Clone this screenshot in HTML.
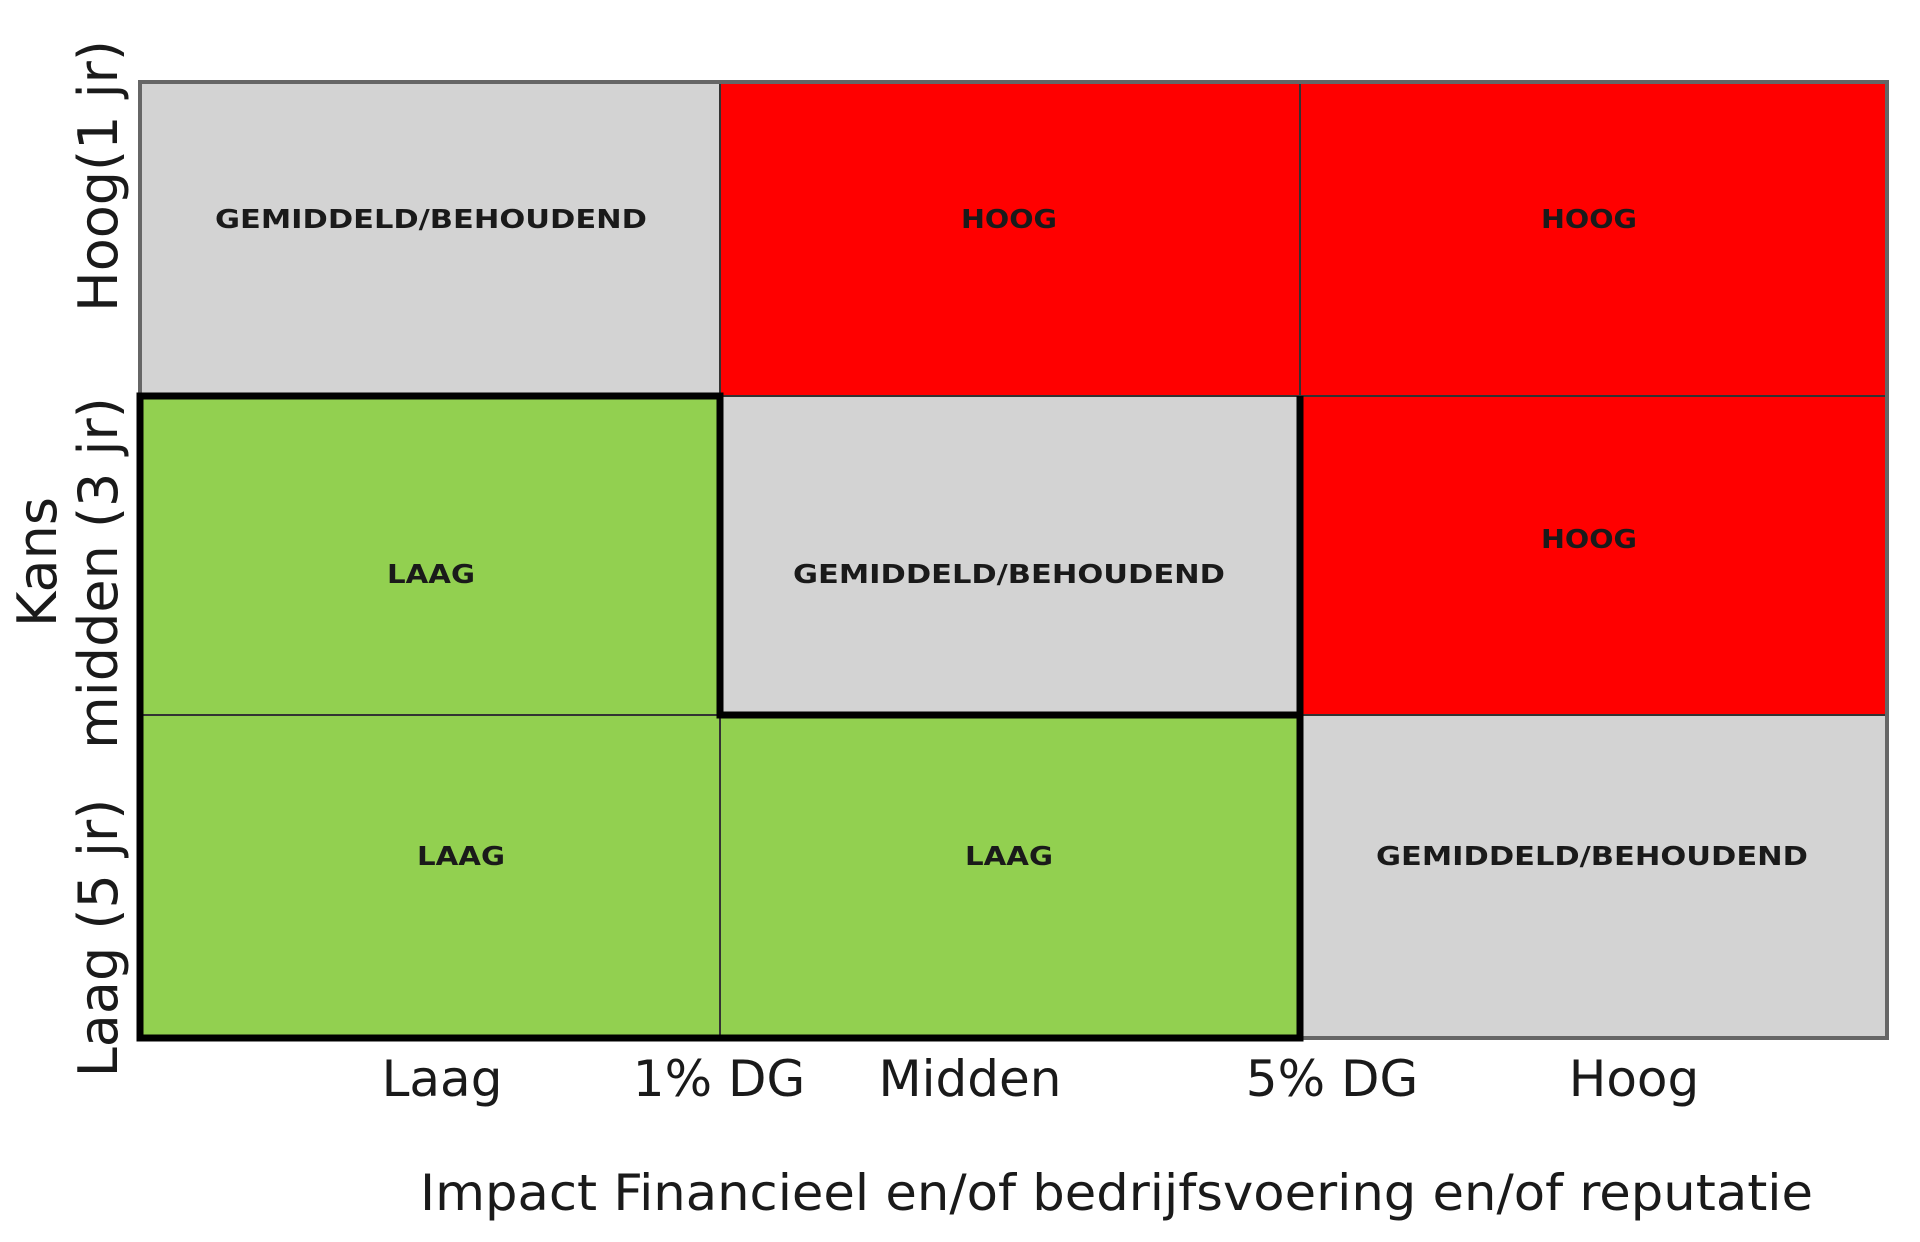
<!DOCTYPE html>
<html><head><meta charset="utf-8"><style>
html,body{margin:0;padding:0;background:#fff;}
svg{display:block;font-family:"DejaVu Sans","Liberation Sans",sans-serif;}
</style></head><body>
<svg id="chart" width="1920" height="1242" viewBox="0 0 1920 1242" xmlns="http://www.w3.org/2000/svg">
<g id="cells"></g>
<g id="labels"></g>
<g id="axes"></g>
</svg>
<script>
// Data
const colEdges = [140, 720, 1300, 1887];
const rowEdges = [82, 396, 715, 1038];
const cellLevels = [
  ["mid","high","high"],
  ["low","mid","high"],
  ["low","low","mid"]
];
const levelText = {low:"LAAG", mid:"GEMIDDELD/BEHOUDEND", high:"HOOG"};
const levelColor = {low:"#92d050", mid:"#d3d3d3", high:"#ff0000"};
const labelPos = [
  [[431,228],[1009,228],[1589,228]],
  [[431,583],[1009,583],[1589,548]],
  [[461,865],[1009,865],[1592,865]]
];
const xTickLabels = ["Laag","1% DG","Midden","5% DG","Hoog"];
const xTickCenters = [442,719,970,1332,1634];
const yTickLabels = ["Hoog(1 jr)","midden (3 jr)","Laag (5 jr)"];
const yTickCenters = [176,573,938];

const NS = "http://www.w3.org/2000/svg";
function mk(tag, attrs, parent){const e=document.createElementNS(NS,tag);for(const k in attrs)e.setAttribute(k,attrs[k]);parent.appendChild(e);return e;}
const cells=document.getElementById('cells'), labels=document.getElementById('labels'), axes=document.getElementById('axes');

for(let r=0;r<3;r++){for(let c=0;c<3;c++){
  const lv=cellLevels[r][c];
  const rect=mk('rect',{x:colEdges[c],y:rowEdges[r],width:colEdges[c+1]-colEdges[c],height:rowEdges[r+1]-rowEdges[r],fill:levelColor[lv],stroke:'#333','stroke-width':2},cells);
  
  
  const t=mk('text',{x:labelPos[r][c][0],y:labelPos[r][c][1],'text-anchor':'middle','font-size':26,'font-weight':'bold',fill:'#1a1a1a'},labels);
  if(lv==='mid'){t.setAttribute('textLength',432);t.setAttribute('lengthAdjust','spacingAndGlyphs');}
  else if(lv==='high'){t.setAttribute('textLength',96);t.setAttribute('lengthAdjust','spacingAndGlyphs');}
  else {t.setAttribute('textLength',88);t.setAttribute('lengthAdjust','spacingAndGlyphs');}
  t.textContent=levelText[lv];
  
  
}}
// outer border
const ob=mk('rect',{x:colEdges[0],y:rowEdges[0],width:colEdges[3]-colEdges[0],height:rowEdges[3]-rowEdges[0],fill:'none',stroke:'#666','stroke-width':4},cells);


// thick outlines
const p=`M${colEdges[0]},${rowEdges[1]} L${colEdges[1]},${rowEdges[1]} L${colEdges[1]},${rowEdges[2]} L${colEdges[2]},${rowEdges[2]} L${colEdges[2]},${rowEdges[3]} L${colEdges[0]},${rowEdges[3]} Z M${colEdges[2]},${rowEdges[1]} L${colEdges[2]},${rowEdges[2]}`;
const th=mk('path',{d:p,fill:'none',stroke:'#000','stroke-width':7},cells);



xTickLabels.forEach((s,i)=>{
  const t=mk('text',{x:xTickCenters[i],y:1096,'text-anchor':'middle','font-size':50,fill:'#1a1a1a'},axes);
  t.textContent=s;
  
  
});
yTickLabels.forEach((s,i)=>{
  const t=mk('text',{x:0,y:0,'text-anchor':'middle','font-size':54,fill:'#1a1a1a',transform:`translate(117,${yTickCenters[i]}) rotate(-90)`},axes);
  t.textContent=s;
  
  
});
const yt=mk('text',{x:0,y:0,'text-anchor':'middle','font-size':54,fill:'#1a1a1a',transform:'translate(56,562) rotate(-90)'},axes);
yt.textContent='Kans';


const xt=mk('text',{x:420,y:1210,'font-size':50,fill:'#1a1a1a',textLength:1393,lengthAdjust:'spacingAndGlyphs'},axes);
xt.textContent='Impact Financieel en/of bedrijfsvoering en/of reputatie';


</script>
</body></html>
